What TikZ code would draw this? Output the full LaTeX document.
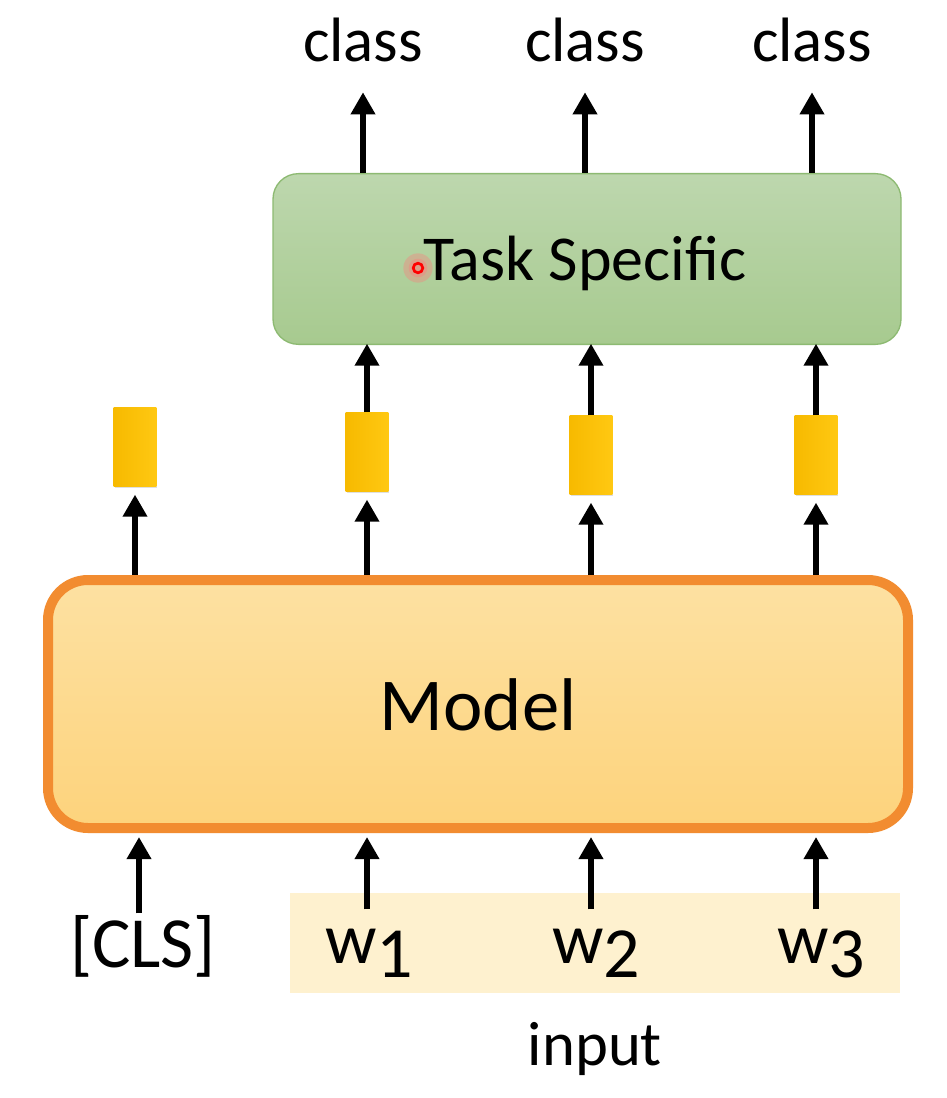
\documentclass[tikz,border=0pt]{standalone}
\usepackage{fontspec}
\setmainfont{Carlito}
\usetikzlibrary{arrows.meta,shadows}
\definecolor{gtop}{HTML}{BDD7AE}
\definecolor{gbot}{HTML}{A7CA8F}
\definecolor{gline}{HTML}{8DBA72}
\definecolor{oline}{HTML}{F28C30}
\definecolor{otop}{HTML}{FDE1A2}
\definecolor{obot}{HTML}{FDD37C}
\definecolor{yl}{HTML}{F7BA00}
\definecolor{yr}{HTML}{FFC812}
\definecolor{inbg}{HTML}{FEF1CF}
\definecolor{glow}{HTML}{FF7A7A}
\tikzset{
  arr/.style={line width=5.2pt,-{Triangle[width=17.5pt,length=16.5pt]}},
  taskbox/.style={draw=gline,line width=1pt,rounded corners=19pt,top color=gtop,bottom color=gbot,
    minimum width=471pt,minimum height=128pt,inner sep=0},
  modelbox/.style={draw=oline,line width=7.5pt,rounded corners=30pt,top color=otop,bottom color=obot,
    minimum width=645pt,minimum height=186pt,inner sep=0},
  vec/.style={left color=yl,right color=yr,minimum width=32pt,minimum height=59pt,inner sep=0,
    drop shadow={opacity=0.25,shadow xshift=0.8pt,shadow yshift=-1.2pt}},
  cls/.style={font=\fontsize{47}{50}\selectfont,anchor=base,inner sep=0,text depth=22.5pt},
  tok/.style={font=\fontsize{54}{58}\selectfont,anchor=base,inner sep=0,text height=40pt},
}
\begin{document}
\begin{tikzpicture}[x=0.75pt,y=-0.75pt]
\useasboundingbox (0,0) rectangle (946,1098);
\fill[white] (0,0) rectangle (946,1098);
% input highlight
\node[fill=inbg,minimum width=457.5pt,minimum height=75pt,inner sep=0] (inrect) at (595,943) {};
% boxes
\node[taskbox] (ts) at (587,259) {};
\node[font=\fontsize{48}{52}\selectfont,anchor=base,inner sep=0] (tstext) at (585,280) {Task Specific};
\node[modelbox] (model) at (478,704) {};
\node[font=\fontsize{56}{60}\selectfont,anchor=base,inner sep=0] (mtext) at (478,730) {Model};
% vectors
\node[vec] (r0) at (135,447) {};
\node[vec] (r1) at (367,452) {};
\node[vec] (r2) at (591,455) {};
\node[vec] (r3) at (816,455) {};
% class labels
\node[cls] (c1) at (363,62) {class};
\node[cls] (c2) at (585,62) {class};
\node[cls] (c3) at (812,62) {class};
% tokens
\node[tok] (t0) at (143,967) {[CLS]};
\node[tok] (t1) at (369,963) {w\raisebox{-0.2em}{1}};
\node[tok] (t2) at (596,963) {w\raisebox{-0.2em}{2}};
\node[tok] (t3) at (821,963) {w\raisebox{-0.2em}{3}};
\node[font=\fontsize{47}{50}\selectfont,anchor=base,inner sep=0] (inlabel) at (595,1065) {input};
% arrows model -> vectors
\draw[arr,shorten >=6pt] (r0 |- model.north) -- (r0.south);
\draw[arr,shorten >=6pt] (r1 |- model.north) -- (r1.south);
\draw[arr,shorten >=6pt] (r2 |- model.north) -- (r2.south);
\draw[arr,shorten >=6pt] (r3 |- model.north) -- (r3.south);
% arrows vectors -> task
\draw[arr,shorten >=-1pt] (r1.north) -- (r1 |- ts.south);
\draw[arr,shorten >=-1pt] (r2.north) -- (r2 |- ts.south);
\draw[arr,shorten >=-1pt] (r3.north) -- (r3 |- ts.south);
% arrows task -> class
\draw[arr] (c1 |- ts.north) -- (c1.south);
\draw[arr] (c2 |- ts.north) -- (c2.south);
\draw[arr] (c3 |- ts.north) -- (c3.south);
% arrows tokens -> model
\draw[arr,shorten >=3pt] ([xshift=-3pt]t0.north) -- ([xshift=-3pt]t0.north |- model.south);
\draw[arr,shorten >=3pt] (r1 |- t1.north) -- (r1 |- model.south);
\draw[arr,shorten >=3pt] (r2 |- t2.north) -- (r2 |- model.south);
\draw[arr,shorten >=3pt] (r3 |- t3.north) -- (r3 |- model.south);
% pointer
\fill[glow,opacity=0.35] (418,268) circle (11pt);
\fill[glow,opacity=0.35] (418,268) circle (7pt);
\draw[red,line width=2pt] (418,268) circle (3.6pt);
\end{tikzpicture}
\end{document}
